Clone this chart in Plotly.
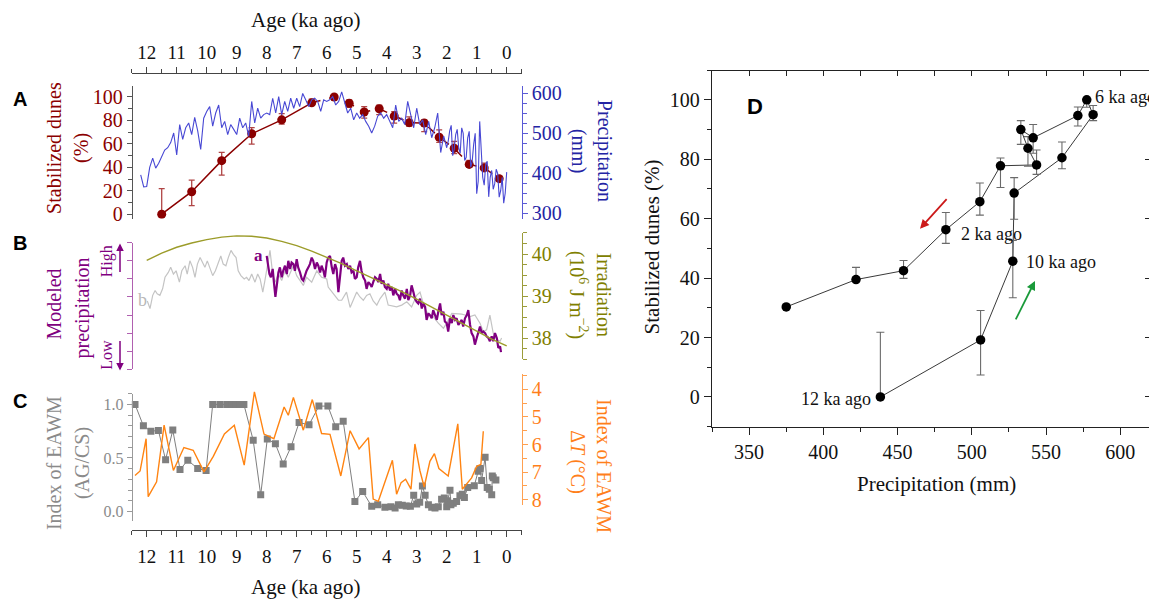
import plotly.graph_objects as go

W, H = 1157, 600
OFF = 8  # the page body adds an 8 px margin around the figure
def px(x): return (x - OFF) / W
def py(y): return 1 - (y - OFF) / H

# ---------------- data ----------------
# Panel A / D : stabilized dunes
dune_age = [11.5, 10.5, 9.5, 8.5, 7.5, 6.5, 5.75, 5.25, 4.75, 4.25, 3.75, 3.25, 2.75, 2.25, 1.75, 1.25, 0.75, 0.25]
dune_pct = [0, 19.2, 45.7, 68.6, 80.5, 95, 100, 94.7, 87.2, 90, 83.7, 78.1, 77.8, 65.7, 56.3, 42.5, 39.5, 30.3]
dune_hi = [21.8, 29.1, 52.7, 73.8, 85.8, 98.1, 100, 97.6, 91.7, 93, 87.6, 83.1, 80.4, 72, 62.1, 45.9, 43.6, 30.3]
dune_lo = [0, 7.4, 33.4, 59.8, 76.8, 93, 97.5, 91.2, 82, 85, 77.7, 74.9, 70.5, 61.2, 51.7, 39.9, 39.5, 30.3]
dune_precip = [438.4, 505.9, 527.6, 528.5, 560.7, 581.7, 577.4, 571.4, 541.3, 533.0, 537.8, 543.6, 519.3, 505.4, 482.5, 454.0, 422.0, 375.0]

# Panel A : precipitation record (mm)
precip_age = [12.2, 12.1, 12.0, 11.9, 11.8, 11.7, 11.6, 11.5, 11.4, 11.3, 11.2, 11.1, 11.0, 10.9, 10.8, 10.7, 10.6, 10.5,
              10.4, 10.3, 10.2, 10.1, 10.0, 9.9, 9.8, 9.7, 9.6, 9.5, 9.4, 9.3, 9.2, 9.1, 9.0, 8.9, 8.8, 8.7, 8.6, 8.5,
              8.4, 8.3, 8.2, 8.1, 8.0, 7.9, 7.8, 7.7, 7.6, 7.5, 7.4, 7.3, 7.2, 7.1, 7.0, 6.9, 6.8, 6.7, 6.6, 6.5,
              6.4, 6.3, 6.2, 6.1, 6.0, 5.9, 5.8, 5.7, 5.6, 5.5, 5.4, 5.3, 5.2, 5.1, 5.0, 4.9, 4.8, 4.7, 4.6, 4.5,
              4.4, 4.3, 4.2, 4.1, 4.0, 3.9, 3.8, 3.7, 3.6, 3.5, 3.4, 3.3, 3.2, 3.1, 3.0, 2.9, 2.8, 2.7, 2.6, 2.5,
              2.4, 2.3, 2.2, 2.1, 2.0, 1.95, 1.9, 1.85, 1.8, 1.75, 1.7, 1.65, 1.6, 1.55, 1.5, 1.45, 1.4, 1.35, 1.3,
              1.25, 1.2, 1.15, 1.1, 1.05, 1.0, 0.95, 0.9, 0.85, 0.8, 0.75, 0.7, 0.65, 0.6, 0.55, 0.5, 0.45, 0.4,
              0.35, 0.3, 0.25, 0.2, 0.15, 0.1, 0.05, 0.0]
precip_mm = [396, 366, 367, 415, 438, 413, 425, 444, 458, 464, 477, 501, 446, 522, 485, 514, 526, 497,
             540, 506, 460, 538, 555, 567, 518, 551, 571, 514, 530, 497, 522, 510, 497, 538, 514, 526, 493, 580,
             526, 563, 538, 547, 551, 547, 588, 551, 592, 547, 580, 555, 588, 563, 588, 567, 600, 584, 567, 584,
             588, 580, 555, 584, 580, 584, 592, 571, 580, 604, 575, 551, 563, 534, 551, 538, 547, 530, 518, 501,
             518, 543, 551, 538, 547, 530, 514, 571, 530, 538, 522, 580, 547, 514, 563, 522, 534, 497, 530, 489,
             514, 551, 452, 493, 464, 480, 506, 520, 444, 460, 497, 510, 464, 450, 514, 500, 432, 440, 489,
             505, 415, 430, 473, 500, 349, 380, 530, 470, 390, 370, 423, 430, 341, 390, 407, 360, 374,
             410, 399, 340, 357, 390, 325, 350, 403]

# Panel B : modeled precipitation (relative units) and irradiation
purple_age = [8.0, 7.97, 7.91, 7.86, 7.8, 7.76, 7.71, 7.67, 7.61, 7.56, 7.5, 7.45, 7.39, 7.33, 7.28, 7.22, 7.17, 7.11,
              7.06, 7.0, 6.95, 6.89, 6.83, 6.78, 6.72, 6.67, 6.61, 6.56, 6.5, 6.45, 6.39, 6.33, 6.28, 6.22, 6.17, 6.11,
              6.06, 6.0, 5.95, 5.89, 5.83, 5.78, 5.72, 5.67, 5.61, 5.56, 5.5, 5.45, 5.39, 5.33, 5.28, 5.22, 5.17, 5.11,
              5.06, 5.0, 4.95, 4.89, 4.84, 4.78, 4.72, 4.67, 4.61, 4.56, 4.5, 4.45, 4.39, 4.33, 4.28, 4.22, 4.17, 4.11,
              4.06, 4.0, 3.95, 3.89, 3.83, 3.78, 3.72, 3.67, 3.61, 3.56, 3.5, 3.45, 3.39, 3.33, 3.28, 3.22, 3.17, 3.11,
              3.06, 3.0, 2.95, 2.89, 2.83, 2.78, 2.72, 2.67, 2.61, 2.56, 2.5, 2.45, 2.39, 2.33, 2.28, 2.22, 2.17, 2.11,
              2.06, 2.0, 1.95, 1.89, 1.83, 1.78, 1.72, 1.67, 1.61, 1.56, 1.5, 1.45, 1.39, 1.33, 1.28, 1.22, 1.17, 1.11,
              1.06, 1.0, 0.95, 0.89, 0.83, 0.78, 0.72, 0.67, 0.61, 0.56, 0.5, 0.45, 0.39, 0.33, 0.28, 0.22, 0.19]
purple_val = [6.27, 5.82, 5.27, 5.09, 5.55, 4.82, 4.0, 4.55, 5.36, 5.64, 5.09, 5.45, 5.73, 5.27, 6.0, 5.55, 5.91, 5.82,
              5.45, 6.09, 5.64, 5.36, 5.0, 4.91, 5.27, 5.45, 5.64, 5.82, 6.18, 6.0, 5.55, 5.91, 5.73, 5.36, 5.73, 5.45,
              5.09, 5.91, 6.18, 6.27, 5.64, 5.27, 5.82, 5.55, 4.27, 5.0, 6.0, 6.18, 5.73, 5.82, 5.55, 5.73, 5.36, 5.45,
              5.0, 5.09, 5.64, 6.0, 5.45, 5.09, 4.91, 4.45, 4.82, 4.73, 4.55, 4.82, 5.09, 5.0, 4.82, 5.27, 4.73, 4.91,
              4.55, 4.45, 4.73, 4.36, 4.55, 4.09, 4.45, 4.18, 4.09, 3.82, 4.36, 4.09, 3.91, 4.45, 3.82, 4.09, 4.64, 4.27,
              3.91, 3.73, 3.64, 3.91, 3.36, 3.64, 3.45, 2.73, 3.09, 3.0, 2.82, 3.27, 3.0, 2.73, 3.18, 3.64, 3.0, 3.18,
              2.64, 2.55, 2.09, 2.82, 2.55, 3.0, 2.73, 2.82, 2.45, 2.55, 2.73, 2.36, 2.82, 3.0, 3.27, 2.45, 2.0, 1.82,
              1.36, 1.73, 2.09, 2.36, 2.0, 2.09, 2.0, 1.82, 1.73, 1.55, 1.82, 1.55, 2.0, 1.73, 1.18, 1.27, 0.95]

grayb_age = [11.98, 11.89, 11.8, 11.72, 11.65, 11.56, 11.47, 11.39, 11.28, 11.2, 11.11, 11.02, 10.91, 10.83, 10.72, 10.65,
             10.56, 10.47, 10.39, 10.31, 10.22, 10.13, 10.06, 9.98, 9.89, 9.8, 9.71, 9.62, 9.53, 9.45, 9.36, 9.28, 9.19,
             9.11, 9.02, 8.95, 8.86, 8.75, 8.67, 8.59, 8.5, 8.39, 8.3, 8.22, 8.13, 8.06, 7.98, 7.89, 7.8, 7.72, 7.61,
             7.5, 7.39, 7.28, 7.11, 7.0, 6.89, 6.78, 6.67, 6.5, 6.33, 6.17, 6.0, 5.95, 5.78, 5.61, 5.5, 5.34, 5.22,
             5.11, 5.0, 4.89, 4.78, 4.67, 4.56, 4.45, 4.33, 4.22, 4.06, 3.95, 3.83, 3.67, 3.5, 3.33, 3.17, 3.0, 2.89,
             2.78, 2.67, 2.56, 2.45, 2.28, 2.11, 2.0, 1.83, 1.67, 1.5, 1.39, 1.22, 1.06, 0.89, 0.78, 0.67, 0.56, 0.45,
             0.33, 0.22, 0.17]
grayb_val = [3.78, 3.36, 4.09, 4.36, 4.18, 4.09, 4.45, 5.09, 5.36, 5.64, 5.27, 5.45, 4.82, 5.45, 5.73, 5.27,
             6.0, 5.64, 5.09, 5.82, 6.18, 5.82, 5.64, 6.0, 5.64, 5.18, 5.45, 5.82, 6.27, 5.82, 5.73, 6.18, 6.58,
             6.36, 6.18, 5.45, 5.18, 5.0, 5.09, 4.91, 5.27, 4.82, 5.27, 5.0, 4.27, 4.91, 5.82, 6.58, 5.27, 4.82, 5.27,
             4.91, 5.45, 5.09, 5.73, 5.18, 4.91, 4.64, 5.09, 4.82, 5.45, 5.09, 5.0, 4.55, 4.18, 3.82, 3.82, 4.27, 3.42,
             3.82, 4.27, 4.0, 3.82, 4.09, 4.18, 3.78, 3.55, 3.91, 4.27, 3.55, 3.49, 3.45, 3.55, 3.73, 3.45, 4.09, 4.27,
             3.64, 3.18, 3.0, 2.91, 2.55, 2.27, 2.55, 3.09, 3.09, 3.05, 3.0, 2.91, 3.0, 2.55, 2.09, 2.18, 3.0, 2.0,
             1.64, 1.55, 1.73]

irr_age = [12, 11.5, 11, 10.5, 10, 9.5, 9, 8.5, 8, 7.5, 7, 6.5, 6, 5.5, 5, 4.5, 4, 3.5, 3, 2.5, 2, 1.5, 1, 0.5, 0]
irr_val = [39.85, 40.02, 40.16, 40.26, 40.34, 40.40, 40.43, 40.42, 40.38, 40.30, 40.20, 40.07, 39.92, 39.77, 39.60,
           39.44, 39.28, 39.11, 38.93, 38.74, 38.54, 38.34, 38.15, 37.98, 37.82]

# Panel C : EAWM indices
agcs_age = [12.39, 12.11, 11.86, 11.61, 11.37, 11.13, 10.89, 10.63, 10.30, 10.02, 9.80, 9.56, 9.33, 9.17, 9.02, 8.89,
            8.76, 8.45, 8.20, 7.98, 7.71, 7.45, 7.19, 6.92, 6.59, 6.26, 5.96, 5.70, 5.45, 5.06, 4.80, 4.50, 4.30,
            4.06, 3.86, 3.72, 3.61, 3.48, 3.35, 3.21, 3.10, 3.00, 2.90, 2.81, 2.72, 2.61, 2.50, 2.39, 2.28, 2.17,
            2.08, 2.00, 1.97, 1.89, 1.86, 1.78, 1.67, 1.56, 1.48, 1.41, 1.30, 1.08, 0.95, 0.89, 0.835, 0.72, 0.65,
            0.58, 0.50, 0.48, 0.45, 0.36]
agcs_val = [1.0, 0.80, 0.75, 0.757, 0.484, 0.76, 0.392, 0.478, 0.402, 0.383, 1.0, 1.0, 1.0, 1.0, 1.0, 1.0,
            1.0, 0.665, 0.156, 0.678, 0.632, 0.444, 0.604, 0.831, 0.809, 0.984, 0.984, 0.791, 0.843, 0.095, 0.187,
            0.049, 0.064, 0.04, 0.046, 0.034, 0.064, 0.058, 0.052, 0.049, 0.153, 0.07, 0.086, 0.239, 0.153, 0.064,
            0.04, 0.034, 0.046, 0.116, 0.126, 0.046, 0.101, 0.199, 0.064, 0.077, 0.095, 0.147, 0.162, 0.132, 0.224,
            0.242, 0.377, 0.402, 0.291, 0.506, 0.224, 0.208, 0.156, 0.331, 0.316, 0.294]

dT_age = [12.39, 12.22, 12.02, 11.95, 11.67, 11.42, 11.11, 10.76, 10.45, 10.09, 9.78, 9.41, 9.08, 8.75, 8.41, 8.09,
          7.76, 7.42, 7.28, 7.11, 6.78, 6.48, 6.17, 5.89, 5.53, 5.22, 4.92, 4.61, 4.45, 4.28, 3.81, 3.67, 3.52,
          3.37, 3.19, 3.06, 2.89, 2.75, 2.56, 2.41, 2.26, 1.95, 1.63, 1.48, 1.17, 1.00, 0.86, 0.78]
dT_val = [7.12, 6.96, 5.79, 7.89, 7.35, 5.30, 6.94, 6.11, 6.21, 6.99, 6.43, 5.62, 5.30, 6.75, 4.09, 5.62,
          5.79, 4.64, 4.94, 4.29, 5.48, 4.37, 5.60, 5.63, 7.14, 5.50, 6.16, 5.75, 7.98, 8.06, 6.57, 7.80, 7.38,
          7.26, 7.62, 5.98, 6.96, 7.54, 6.61, 6.33, 6.87, 7.14, 5.25, 7.62, 7.21, 6.79, 6.72, 5.52]

age_ticks = [12, 11, 10, 9, 8, 7, 6, 5, 4, 3, 2, 1, 0]
age_minor = [12.5, 11.5, 10.5, 9.5, 8.5, 7.5, 6.5, 5.5, 4.5, 3.5, 2.5, 1.5, 0.5, -0.5]

# ---------------- style ----------------
SERIF = "Liberation Serif"
SANS = "Liberation Sans"
RED = "#8b0000"
RED_ERR = "#b04545"
BLUE = "#4848d4"
BLUE_TXT = "#2424a4"
PURPLE = "#800080"
OLIVE = "#9c9c2a"
OLIVE_TXT = "#808000"
GRAYB = "#c4c4c4"
GRAYC = "#7f7f7f"
GRAYC_TXT = "#8a8a8a"
ORANGE = "#ff8412"
ORANGE_TXT = "#ff7f1a"
AX = "#444444"

fig = go.Figure()

# ---- Panel A
fig.add_trace(go.Scatter(x=precip_age, y=precip_mm, xaxis="x", yaxis="y2", mode="lines",
                         line=dict(color=BLUE, width=1.1), hoverinfo="skip"))
fig.add_trace(go.Scatter(x=dune_age[:6], y=dune_pct[:6], xaxis="x", yaxis="y", mode="lines",
                         line=dict(color=RED, width=1.5)))
fig.add_trace(go.Scatter(x=dune_age[5:], y=dune_pct[5:], xaxis="x", yaxis="y", mode="lines",
                         line=dict(color=RED, width=1.5, dash="dash")))
fig.add_trace(go.Scatter(x=dune_age, y=dune_pct, xaxis="x", yaxis="y", mode="markers",
                         marker=dict(color=RED, size=9),
                         error_y=dict(type="data", symmetric=False,
                                      array=[h - p for h, p in zip(dune_hi, dune_pct)],
                                      arrayminus=[p - l for p, l in zip(dune_pct, dune_lo)],
                                      color=RED_ERR, thickness=1.3, width=3)))

# ---- Panel B
fig.add_trace(go.Scatter(x=grayb_age, y=grayb_val, xaxis="x", yaxis="y3", mode="lines",
                         line=dict(color=GRAYB, width=1.2)))
fig.add_trace(go.Scatter(x=purple_age, y=purple_val, xaxis="x", yaxis="y3", mode="lines",
                         line=dict(color=PURPLE, width=2.2)))
fig.add_trace(go.Scatter(x=irr_age, y=irr_val, xaxis="x", yaxis="y4", mode="lines",
                         line=dict(color=OLIVE, width=1.4)))

# ---- Panel C
fig.add_trace(go.Scatter(x=dT_age, y=dT_val, xaxis="x", yaxis="y6", mode="lines",
                         line=dict(color=ORANGE, width=1.4)))
fig.add_trace(go.Scatter(x=agcs_age, y=agcs_val, xaxis="x", yaxis="y5", mode="lines+markers",
                         line=dict(color=GRAYC, width=1),
                         marker=dict(symbol="square", size=7, color=GRAYC)))
fig.add_trace(go.Scatter(x=[None], y=[None], xaxis="x2", yaxis="y5", showlegend=False))

# ---- Panel D
fig.add_trace(go.Scatter(x=dune_precip, y=dune_pct, xaxis="x3", yaxis="y7", mode="lines",
                         line=dict(color="#222222", width=0.9)))
fig.add_trace(go.Scatter(x=dune_precip, y=dune_pct, xaxis="x3", yaxis="y7", mode="markers",
                         marker=dict(color="black", size=9.5),
                         error_y=dict(type="data", symmetric=False,
                                      array=[h - p for h, p in zip(dune_hi, dune_pct)],
                                      arrayminus=[p - l for p, l in zip(dune_pct, dune_lo)],
                                      color="#6a6a6a", thickness=1.1, width=4)))
fig.add_trace(go.Scatter(x=[None], y=[None], xaxis="x4", yaxis="y8", showlegend=False))

XL, XR = 131.7, 521.7
def age_axis(**kw):
    d = dict(range=[12.5, -0.5], tickmode="array", tickvals=age_ticks, ticks="outside", ticklen=6,
             tickcolor=AX, showline=True, linecolor=AX, linewidth=1, showgrid=False, zeroline=False,
             tickfont=dict(family=SERIF, size=19, color="#111111"),
             minor=dict(tickmode="array", tickvals=age_minor, ticks="outside", ticklen=4, tickcolor=AX))
    d.update(kw)
    return d

def lin_axis(color, tcolor, size, **kw):
    d = dict(ticks="outside", ticklen=5, tickcolor=color, showline=True, linecolor=color, linewidth=1,
             showgrid=False, zeroline=False, tickfont=dict(family=SERIF, size=size, color=tcolor))
    d.update(kw)
    return d

layout = dict(
    width=W, height=H, margin=dict(l=0, r=0, t=0, b=0), showlegend=False,
    paper_bgcolor="white", plot_bgcolor="rgba(0,0,0,0)",
    xaxis=age_axis(domain=[px(XL), px(XR)], side="top", anchor="free", position=py(70.7)),
    xaxis2=age_axis(overlaying="x", side="bottom", anchor="free", position=py(534.5), ticklabelstandoff=4),
    yaxis=lin_axis("#555555", RED, 20, domain=[py(219), py(84)], range=[-3.95, 109.5], anchor="free",
                   position=px(XL), side="left", dtick=20, tick0=0,
                   minor=dict(dtick=10, ticks="outside", ticklen=4, tickcolor="#555555")),
    yaxis2=lin_axis("#5a5ad6", BLUE_TXT, 20, overlaying="y", range=[285.9, 619], anchor="free",
                    position=px(XR), side="right", dtick=100, tick0=0,
                    minor=dict(dtick=25, ticks="outside", ticklen=4, tickcolor="#5a5ad6")),
    yaxis3=lin_axis("#b060b0", PURPLE, 16, domain=[py(371.7), py(243.3)], range=[0, 7], anchor="free",
                    position=px(XL), side="left", dtick=1, tick0=0, showticklabels=False),
    yaxis4=lin_axis("#9c9c3a", OLIVE_TXT, 20, domain=[py(361.7), py(233.3)], range=[37.5, 40.5],
                    anchor="free", position=px(XR), side="right", dtick=1, tick0=0,
                    minor=dict(dtick=0.25, ticks="outside", ticklen=4, tickcolor="#9c9c3a")),
    yaxis5=lin_axis("#9a9a9a", GRAYC_TXT, 16, domain=[py(526), py(396.5)], range=[-0.09, 1.1],
                    anchor="free", position=px(XL), side="left", dtick=0.5, tick0=0, tickformat=".1f",
                    minor=dict(dtick=0.1, ticks="outside", ticklen=4, tickcolor="#9a9a9a")),
    yaxis6=lin_axis("#ffa050", ORANGE_TXT, 20, domain=[py(510), py(377)], range=[8.21, 3.46],
                    anchor="free", position=px(XR), side="right", dtick=1, tick0=0,
                    minor=dict(dtick=0.5, ticks="outside", ticklen=4, tickcolor="#ffa050")),
    xaxis3=lin_axis("#222222", "#111111", 20, domain=[px(712), px(1150)], range=[325, 620], anchor="y7",
                    side="bottom", dtick=50, tick0=0, ticklen=7, linewidth=1.3,
                    minor=dict(dtick=25, ticks="outside", ticklen=4, tickcolor="#222222")),
    yaxis7=lin_axis("#222222", "#111111", 20, domain=[py(430), py(68)], range=[-10, 110], anchor="x3",
                    side="left", dtick=20, tick0=0, ticklen=7, linewidth=1.3,
                    minor=dict(dtick=10, ticks="outside", ticklen=4, tickcolor="#222222")),
    xaxis4=lin_axis("#222222", "#111111", 20, overlaying="x3", range=[325, 620], anchor="free",
                    position=py(68), side="top", dtick=25, tick0=0, ticks="inside", ticklen=5,
                    showticklabels=False, linewidth=1.3),
    yaxis8=lin_axis("#222222", "#111111", 20, overlaying="y7", range=[-10, 110], anchor="free",
                    position=px(1150), side="right", dtick=20, tick0=0, ticks="inside", ticklen=5,
                    showticklabels=False, linewidth=1.3),
)
fig.update_layout(**layout)

ann = []
def text(x, y, s, size=20, color="#111111", angle=0, family=SERIF, xanchor="center", yanchor="middle"):
    ann.append(dict(x=px(x), y=py(y), xref="paper", yref="paper", text=s, showarrow=False,
                    textangle=angle, xanchor=xanchor, yanchor=yanchor,
                    font=dict(family=family, size=size, color=color)))

text(306, 17, "Age (ka ago)", 21)
text(306, 593, "Age (ka ago)", 21)
for lab, yy in [("A", 97), ("B", 244), ("C", 404)]:
    text(20, yy, "<b>%s</b>" % lab, 20, "#000000", family=SANS)
text(755, 105, "<b>D</b>", 22, "#000000", family=SANS)
text(54, 147, "Stabilized dunes", 20, RED, -90)
text(82, 147, "(%)", 20, RED, -90)
text(604, 150, "Precipitation", 20, BLUE_TXT, 90)
text(578, 150, "(mm)", 20, BLUE_TXT, 90)
text(54, 306, "Modeled", 20, PURPLE, -90)
text(82, 310, "precipitation", 20, PURPLE, -90)
text(604, 296, "Irradiation", 20, OLIVE_TXT, 90)
text(578, 296, "(10<sup>6</sup> J m<sup>\u22122</sup>)", 20, OLIVE_TXT, 90)
text(107, 262, "High", 16, PURPLE, -90)
text(107, 357, "Low", 16, PURPLE, -90)
text(258, 256, "<b>a</b>", 17, PURPLE)
text(142, 301, "b", 18, "#b8b8b8")
text(54, 467, "Index of EAWM", 20, GRAYC_TXT, -90)
text(82, 467, "(AG/CS)", 20, GRAYC_TXT, -90)
text(604, 470, "Index of EAWM", 20, ORANGE_TXT, 90)
text(578, 466, "\u0394<i>T</i> (\u00b0C)", 20, ORANGE_TXT, 90)
text(936, 488, "Precipitation (mm)", 21)
text(652, 248, "Stabilized dunes (%)", 21, angle=-90)
text(1093, 95, "6 ka ago", 18, xanchor="left")
text(959, 234, "2 ka ago", 18, xanchor="left")
text(1024, 263, "10 ka ago", 18, xanchor="left")
text(873, 402, "12 ka ago", 18, xanchor="right")

def arrow(xh, yh, xt, yt, color, width=1.6):
    ann.append(dict(x=px(xh), y=py(yh), xref="paper", yref="paper", ax=xt - xh, ay=yt - yh,
                    axref="pixel", ayref="pixel", showarrow=True, arrowhead=2, arrowsize=1,
                    arrowwidth=width, arrowcolor=color, text=""))
arrow(120, 244, 120, 274, PURPLE, 1.5)
arrow(120, 373, 120, 342, PURPLE, 1.5)
arrow(920, 229, 948, 198, "#cc1a1a", 1.8)
arrow(1035, 282, 1015, 322, "#1a9a3a", 1.8)

fig.update_layout(annotations=ann)
fig.write_html("out.html")
